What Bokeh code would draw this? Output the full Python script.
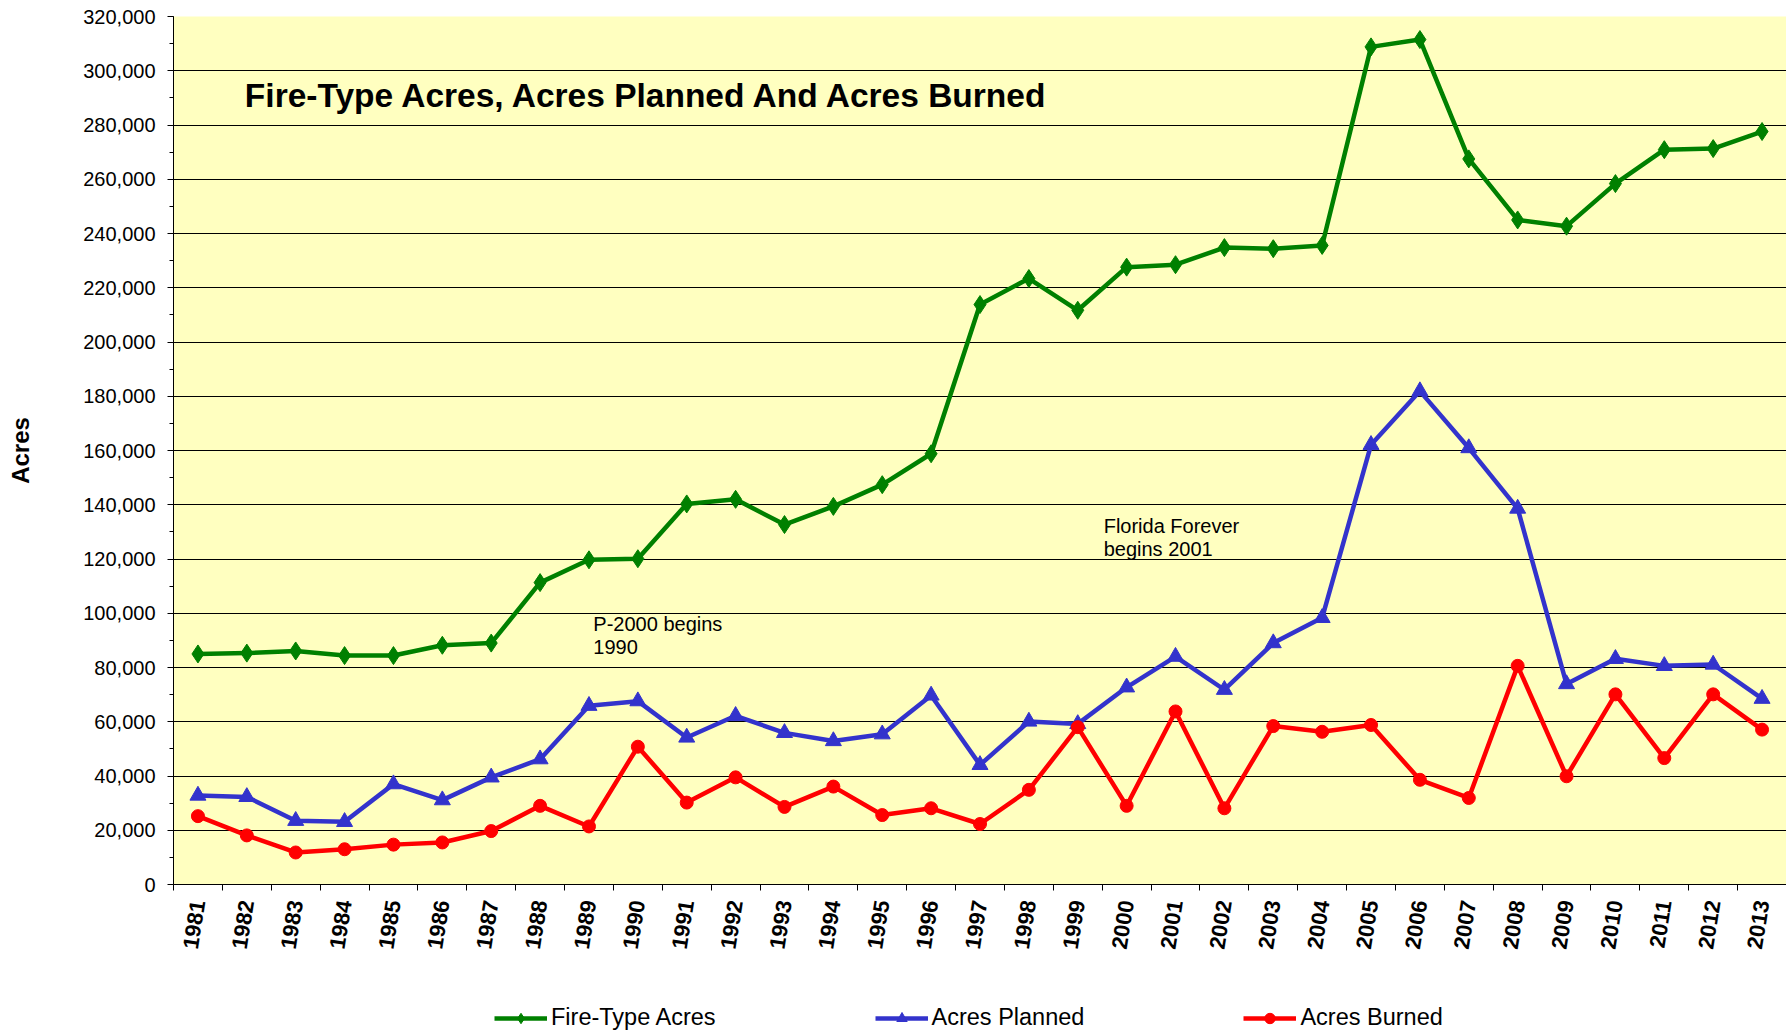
from bokeh.plotting import figure
from bokeh.layouts import column
from bokeh.models import (Range1d, FixedTicker, SingleIntervalTicker, NumeralTickFormatter,
                          Legend, LegendItem, Label)
from bokeh.embed import file_html
from bokeh.resources import INLINE

years = [str(y) for y in range(1981, 2014)]
fire_type_acres = [85000, 85300, 86100, 84400, 84400, 88200, 89000, 111300, 119700, 120100,
                   140300, 142000, 132700, 139400, 147400, 158800, 213800, 223400, 211700, 227600,
                   228500, 234800, 234400, 235600, 308800, 311500, 267500, 245000, 242700, 258400,
                   270900, 271300, 277600]
acres_planned = [32800, 32300, 23500, 23100, 37000, 31100, 39500, 46200, 65900, 67600,
                 54200, 62200, 55900, 52900, 55400, 69700, 44100, 60100, 59200, 72700,
                 84000, 71800, 89000, 98300, 162100, 181900, 160900, 138600, 73900, 83200,
                 80600, 81100, 68500]
acres_burned = [25200, 18100, 11800, 13000, 14700, 15500, 19700, 29000, 21400, 50800,
                30200, 39500, 28600, 36100, 25600, 28100, 22300, 34900, 58000, 29000,
                63800, 28100, 58400, 56300, 58800, 38600, 31900, 80600, 39900, 70100,
                46600, 70100, 57100]
series_names = ["Fire-Type Acres", "Acres Planned", "Acres Burned"]
y_ticks_step = 20000
y_max = 320000

xs = list(range(len(years)))
FONT = "Liberation Sans"
GREEN = "#008000"
BLUE = "#3333CC"
RED = "#FF0000"

p = figure(width=1786, height=968, output_backend="svg", toolbar_location=None,
           x_range=Range1d(-0.5, len(years) - 0.5), y_range=Range1d(0, y_max),
           min_border_left=173, min_border_right=0, min_border_top=16, min_border_bottom=84,
           background_fill_color="#FFFFC0", border_fill_color="white", outline_line_color=None)

# axes
p.xaxis.ticker = FixedTicker(ticks=xs, minor_ticks=[i - 0.5 for i in range(len(years) + 1)])
p.xaxis.major_label_overrides = {i: y for i, y in zip(xs, years)}
p.xaxis.major_tick_line_color = None
p.xaxis.major_tick_out = 6
p.xaxis.major_tick_in = 0
p.xaxis.minor_tick_line_color = "black"
p.xaxis.minor_tick_out = 6
p.xaxis.minor_tick_in = 0
p.xaxis.major_label_orientation = 1.4137
p.xaxis.major_label_standoff = 10
p.xaxis.major_label_text_font = FONT
p.xaxis.major_label_text_font_style = "bold"
p.xaxis.major_label_text_font_size = "22px"
p.xaxis.major_label_text_color = "black"
p.xaxis.axis_line_color = "black"
p.xgrid.grid_line_color = None

p.yaxis.ticker = SingleIntervalTicker(interval=y_ticks_step, num_minor_ticks=2)
p.yaxis.formatter = NumeralTickFormatter(format="0,0")
p.yaxis.major_tick_out = 6
p.yaxis.major_tick_in = 0
p.yaxis.minor_tick_out = 4
p.yaxis.minor_tick_in = 0
p.yaxis.major_tick_line_color = "black"
p.yaxis.minor_tick_line_color = "black"
p.yaxis.axis_line_color = "black"
p.yaxis.major_label_standoff = 12
p.yaxis.major_label_text_font = FONT
p.yaxis.major_label_text_font_size = "20px"
p.yaxis.major_label_text_color = "black"
p.yaxis.axis_label = "Acres"
p.yaxis.axis_label_text_font = FONT
p.yaxis.axis_label_text_font_size = "24px"
p.yaxis.axis_label_text_font_style = "bold"
p.yaxis.axis_label_text_color = "black"
p.yaxis.axis_label_standoff = 46
p.ygrid.grid_line_color = "black"
p.ygrid.grid_line_width = 1
p.ygrid.ticker = SingleIntervalTicker(interval=y_ticks_step)

p.line(xs, fire_type_acres, line_color=GREEN, line_width=4.5)
p.scatter(xs, fire_type_acres, marker="diamond", size=18, fill_color=GREEN, line_color=GREEN)
p.line(xs, acres_planned, line_color=BLUE, line_width=4.5)
p.scatter(xs, acres_planned, marker="triangle", size=16, fill_color=BLUE, line_color=BLUE)
p.line(xs, acres_burned, line_color=RED, line_width=4.5)
p.scatter(xs, acres_burned, marker="circle", size=13, fill_color=RED, line_color=RED)

# title and notes
p.add_layout(Label(x=0.96, y=291000, text="Fire-Type Acres, Acres Planned And Acres Burned",
                   text_font=FONT, text_font_size="33.5px", text_font_style="bold",
                   text_color="black", text_baseline="alphabetic"))
for (tx, ty, t) in [(8.09, 95900, "P-2000 begins"), (8.09, 87400, "1990"),
                    (18.53, 132100, "Florida Forever"), (18.53, 123600, "begins 2001")]:
    p.add_layout(Label(x=tx, y=ty, text=t, text_font=FONT, text_font_size="20px",
                       text_color="black", text_baseline="alphabetic"))

# legend strip below the chart (same series, drawn out of view so only the key shows)
q = figure(width=1786, height=64, output_backend="svg", toolbar_location=None,
           x_range=Range1d(-100, -99), y_range=Range1d(-100, -99),
           x_axis_type=None, y_axis_type=None,
           min_border_left=0, min_border_right=0, min_border_top=0, min_border_bottom=0,
           background_fill_color="white", border_fill_color="white", outline_line_color=None)
q.xgrid.grid_line_color = None
q.ygrid.grid_line_color = None
items = []
for name, vals, color, marker, size in [(series_names[0], fire_type_acres, GREEN, "diamond", 18),
                                        (series_names[1], acres_planned, BLUE, "triangle", 16),
                                        (series_names[2], acres_burned, RED, "circle", 13)]:
    ln = q.line(xs, vals, line_color=color, line_width=4.5)
    pt = q.scatter(xs, vals, marker=marker, size=size, fill_color=color, line_color=color)
    items.append(LegendItem(label=name, renderers=[ln, pt]))

legend = Legend(items=items, orientation="horizontal", location=(321, 1), spacing=159,
                glyph_width=53, glyph_height=26, label_height=26, label_standoff=4,
                padding=0, margin=0, border_line_color=None, background_fill_alpha=0,
                label_text_font=FONT, label_text_font_size="23.5px", label_text_color="black")
q.add_layout(legend, "center")

layout = column(p, q, spacing=0)
open("out.html", "w").write(file_html(layout, INLINE))
